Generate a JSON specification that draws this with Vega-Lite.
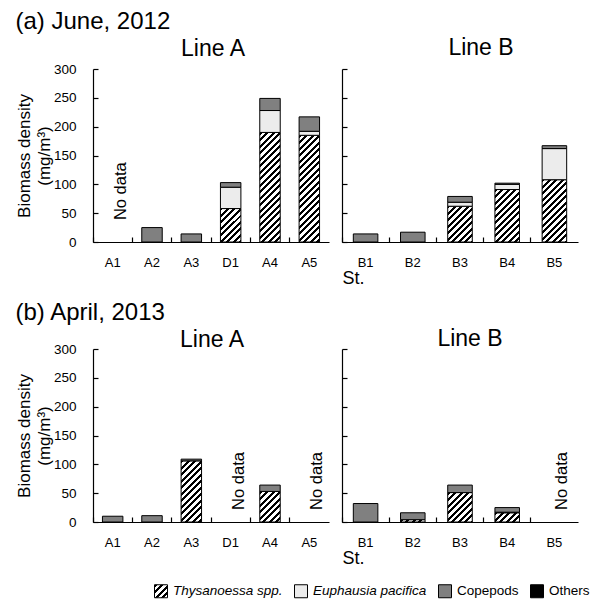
{
  "$schema": "https://vega.github.io/schema/vega-lite/v6.json",
  "padding": {"left": 15, "top": 10, "right": 5, "bottom": 5},
  "params": [
    {"name": "hatchStops", "value": [
      {"offset": 0, "color": "black"}, {"offset": 0.0188, "color": "black"}, {"offset": 0.0188, "color": "white"}, {"offset": 0.0417, "color": "white"},
      {"offset": 0.0417, "color": "black"}, {"offset": 0.0604, "color": "black"}, {"offset": 0.0604, "color": "white"}, {"offset": 0.0833, "color": "white"},
      {"offset": 0.0833, "color": "black"}, {"offset": 0.1021, "color": "black"}, {"offset": 0.1021, "color": "white"}, {"offset": 0.125, "color": "white"},
      {"offset": 0.125, "color": "black"}, {"offset": 0.1438, "color": "black"}, {"offset": 0.1438, "color": "white"}, {"offset": 0.1667, "color": "white"},
      {"offset": 0.1667, "color": "black"}, {"offset": 0.1854, "color": "black"}, {"offset": 0.1854, "color": "white"}, {"offset": 0.2083, "color": "white"},
      {"offset": 0.2083, "color": "black"}, {"offset": 0.2271, "color": "black"}, {"offset": 0.2271, "color": "white"}, {"offset": 0.25, "color": "white"},
      {"offset": 0.25, "color": "black"}, {"offset": 0.2688, "color": "black"}, {"offset": 0.2688, "color": "white"}, {"offset": 0.2917, "color": "white"},
      {"offset": 0.2917, "color": "black"}, {"offset": 0.3104, "color": "black"}, {"offset": 0.3104, "color": "white"}, {"offset": 0.3333, "color": "white"},
      {"offset": 0.3333, "color": "black"}, {"offset": 0.3521, "color": "black"}, {"offset": 0.3521, "color": "white"}, {"offset": 0.375, "color": "white"},
      {"offset": 0.375, "color": "black"}, {"offset": 0.3938, "color": "black"}, {"offset": 0.3938, "color": "white"}, {"offset": 0.4167, "color": "white"},
      {"offset": 0.4167, "color": "black"}, {"offset": 0.4354, "color": "black"}, {"offset": 0.4354, "color": "white"}, {"offset": 0.4583, "color": "white"},
      {"offset": 0.4583, "color": "black"}, {"offset": 0.4771, "color": "black"}, {"offset": 0.4771, "color": "white"}, {"offset": 0.5, "color": "white"},
      {"offset": 0.5, "color": "black"}, {"offset": 0.5188, "color": "black"}, {"offset": 0.5188, "color": "white"}, {"offset": 0.5417, "color": "white"},
      {"offset": 0.5417, "color": "black"}, {"offset": 0.5604, "color": "black"}, {"offset": 0.5604, "color": "white"}, {"offset": 0.5833, "color": "white"},
      {"offset": 0.5833, "color": "black"}, {"offset": 0.6021, "color": "black"}, {"offset": 0.6021, "color": "white"}, {"offset": 0.625, "color": "white"},
      {"offset": 0.625, "color": "black"}, {"offset": 0.6438, "color": "black"}, {"offset": 0.6438, "color": "white"}, {"offset": 0.6667, "color": "white"},
      {"offset": 0.6667, "color": "black"}, {"offset": 0.6854, "color": "black"}, {"offset": 0.6854, "color": "white"}, {"offset": 0.7083, "color": "white"},
      {"offset": 0.7083, "color": "black"}, {"offset": 0.7271, "color": "black"}, {"offset": 0.7271, "color": "white"}, {"offset": 0.75, "color": "white"},
      {"offset": 0.75, "color": "black"}, {"offset": 0.7688, "color": "black"}, {"offset": 0.7688, "color": "white"}, {"offset": 0.7917, "color": "white"},
      {"offset": 0.7917, "color": "black"}, {"offset": 0.8104, "color": "black"}, {"offset": 0.8104, "color": "white"}, {"offset": 0.8333, "color": "white"},
      {"offset": 0.8333, "color": "black"}, {"offset": 0.8521, "color": "black"}, {"offset": 0.8521, "color": "white"}, {"offset": 0.875, "color": "white"},
      {"offset": 0.875, "color": "black"}, {"offset": 0.8938, "color": "black"}, {"offset": 0.8938, "color": "white"}, {"offset": 0.9167, "color": "white"},
      {"offset": 0.9167, "color": "black"}, {"offset": 0.9354, "color": "black"}, {"offset": 0.9354, "color": "white"}, {"offset": 0.9583, "color": "white"},
      {"offset": 0.9583, "color": "black"}, {"offset": 0.9771, "color": "black"}, {"offset": 0.9771, "color": "white"}, {"offset": 1, "color": "white"}
    ]}
  ],
  "datasets": {
    "bio": [
      {"month": "a", "line": "A", "st": "A2", "species": "Copepods", "value": 25},
      {"month": "a", "line": "A", "st": "A3", "species": "Copepods", "value": 14},
      {"month": "a", "line": "A", "st": "D1", "species": "Thysanoessa spp.", "value": 58},
      {"month": "a", "line": "A", "st": "D1", "species": "Euphausia pacifica", "value": 37},
      {"month": "a", "line": "A", "st": "D1", "species": "Copepods", "value": 8},
      {"month": "a", "line": "A", "st": "A4", "species": "Thysanoessa spp.", "value": 190},
      {"month": "a", "line": "A", "st": "A4", "species": "Euphausia pacifica", "value": 38},
      {"month": "a", "line": "A", "st": "A4", "species": "Copepods", "value": 21},
      {"month": "a", "line": "A", "st": "A5", "species": "Thysanoessa spp.", "value": 185},
      {"month": "a", "line": "A", "st": "A5", "species": "Euphausia pacifica", "value": 7},
      {"month": "a", "line": "A", "st": "A5", "species": "Copepods", "value": 25},
      {"month": "a", "line": "B", "st": "B1", "species": "Copepods", "value": 14},
      {"month": "a", "line": "B", "st": "B2", "species": "Copepods", "value": 17},
      {"month": "a", "line": "B", "st": "B3", "species": "Thysanoessa spp.", "value": 62},
      {"month": "a", "line": "B", "st": "B3", "species": "Euphausia pacifica", "value": 7},
      {"month": "a", "line": "B", "st": "B3", "species": "Copepods", "value": 10},
      {"month": "a", "line": "B", "st": "B4", "species": "Thysanoessa spp.", "value": 91},
      {"month": "a", "line": "B", "st": "B4", "species": "Euphausia pacifica", "value": 9},
      {"month": "a", "line": "B", "st": "B4", "species": "Copepods", "value": 2},
      {"month": "a", "line": "B", "st": "B5", "species": "Thysanoessa spp.", "value": 108},
      {"month": "a", "line": "B", "st": "B5", "species": "Euphausia pacifica", "value": 54},
      {"month": "a", "line": "B", "st": "B5", "species": "Copepods", "value": 5},
      {"month": "b", "line": "A", "st": "A1", "species": "Copepods", "value": 10},
      {"month": "b", "line": "A", "st": "A2", "species": "Copepods", "value": 11},
      {"month": "b", "line": "A", "st": "A3", "species": "Thysanoessa spp.", "value": 106},
      {"month": "b", "line": "A", "st": "A3", "species": "Copepods", "value": 3},
      {"month": "b", "line": "A", "st": "A4", "species": "Thysanoessa spp.", "value": 53},
      {"month": "b", "line": "A", "st": "A4", "species": "Copepods", "value": 11},
      {"month": "b", "line": "B", "st": "B1", "species": "Copepods", "value": 32},
      {"month": "b", "line": "B", "st": "B2", "species": "Thysanoessa spp.", "value": 4},
      {"month": "b", "line": "B", "st": "B2", "species": "Copepods", "value": 12},
      {"month": "b", "line": "B", "st": "B3", "species": "Thysanoessa spp.", "value": 51},
      {"month": "b", "line": "B", "st": "B3", "species": "Copepods", "value": 13},
      {"month": "b", "line": "B", "st": "B4", "species": "Thysanoessa spp.", "value": 16},
      {"month": "b", "line": "B", "st": "B4", "species": "Euphausia pacifica", "value": 1},
      {"month": "b", "line": "B", "st": "B4", "species": "Copepods", "value": 8}
    ],
    "nodata": [
      {"month": "a", "line": "A", "st": "A1", "label": "No data"},
      {"month": "b", "line": "A", "st": "D1", "label": "No data"},
      {"month": "b", "line": "A", "st": "A5", "label": "No data"},
      {"month": "b", "line": "B", "st": "B5", "label": "No data"}
    ]
  },
  "vconcat": [
    {
      "title": {"text": "(a) June, 2012", "anchor": "start", "fontSize": 24, "fontWeight": "normal", "offset": 3, "dx": 0},
      "spacing": 12,
      "resolve": {"scale": {"x": "independent", "y": "independent", "color": "shared"}, "axis": {"x": "independent", "y": "independent"}},
      "hconcat": [
        {
          "width": 236, "height": 173,
          "title": {"text": "Line A", "fontSize": 23, "fontWeight": "normal", "offset": 1, "frame": "group", "dx": 2},
          "layer": [
            {
              "data": {"name": "bio"},
              "transform": [{"filter": "datum.month === 'a' && datum.line === 'A'"}],
              "mark": {"type": "bar", "width": {"band": 0.52}, "stroke": "black", "strokeWidth": 1},
              "encoding": {
                "x": {"field": "st", "type": "nominal", "scale": {"domain": ["A1", "A2", "A3", "D1", "A4", "A5"], "paddingInner": 0, "paddingOuter": 0},
                      "axis": {"title": null, "labelAngle": 0, "tickSize": -5, "bandPosition": 0, "labelPadding": 19}},
                "y": {"field": "value", "type": "quantitative", "stack": "zero", "scale": {"domain": [0, 300]},
                      "axis": {"values": [0, 50, 100, 150, 200, 250, 300], "labelOverlap": false, "labelFlush": false, "title": ["Biomass density", "(mg/m³)"], "titleFontSize": 17, "titleFontWeight": "normal", "titleLineHeight": 20, "titlePadding": 0, "tickSize": -5, "labelPadding": 22, "labelFontSize": 13.5}},
                "order": {"field": "species", "sort": "descending"},
                "color": {
                  "condition": {"test": "datum.species === 'Thysanoessa spp.'", "value": {"expr": "{gradient: 'linear', x1: 0, y1: 0, x2: 156*(datum.line === 'A' ? 20.45 : 24.54)/(pow(datum.line === 'A' ? 20.45 : 24.54, 2) + pow(abs(datum.value_end - datum.value_start)*0.5767, 2)), y2: 156*abs(datum.value_end - datum.value_start)*0.5767/(pow(datum.line === 'A' ? 20.45 : 24.54, 2) + pow(abs(datum.value_end - datum.value_start)*0.5767, 2)), stops: hatchStops}"}},
                  "field": "species", "type": "nominal",
                  "scale": {"domain": ["Thysanoessa spp.", "Euphausia pacifica", "Copepods", "Others"], "range": [{"expr": "{gradient: 'linear', x1: 0, y1: 0, x2: 1, y2: 1, stops: [{offset: 0, color: 'black'}, {offset: 0.1125, color: 'black'}, {offset: 0.1125, color: 'white'}, {offset: 0.25, color: 'white'}, {offset: 0.25, color: 'black'}, {offset: 0.3625, color: 'black'}, {offset: 0.3625, color: 'white'}, {offset: 0.5, color: 'white'}, {offset: 0.5, color: 'black'}, {offset: 0.6125, color: 'black'}, {offset: 0.6125, color: 'white'}, {offset: 0.75, color: 'white'}, {offset: 0.75, color: 'black'}, {offset: 0.8625, color: 'black'}, {offset: 0.8625, color: 'white'}, {offset: 1, color: 'white'}]}"}, "#ececec", "#808080", "#000000"]},
                  "legend": {"orient": "none", "legendX": 61, "legendY": 515, "direction": "horizontal", "title": null, "symbolType": "square", "symbolSize": 169, "symbolStrokeColor": "black", "symbolStrokeWidth": 1, "symbolOpacity": 1, "labelFontSize": 13.5, "labelOffset": 5, "columnPadding": 9,
                    "encode": {
                      "labels": {"update": {"fontStyle": {"signal": "datum.value === 'Copepods' || datum.value === 'Others' ? 'normal' : 'italic'"}}}
                    }}
                }
              }
            },
            {
              "data": {"name": "nodata"},
              "transform": [{"filter": "datum.month === 'a' && datum.line === 'A'"}],
              "mark": {"type": "text", "angle": 270, "align": "left", "baseline": "top", "fontSize": 16.5},
              "encoding": {"x": {"field": "st", "type": "nominal"}, "y": {"datum": 38, "axis": {"values": [0, 50, 100, 150, 200, 250, 300], "labelOverlap": false, "labelFlush": false, "title": ["Biomass density", "(mg/m³)"], "titleFontSize": 17, "titleFontWeight": "normal", "titleLineHeight": 20, "titlePadding": 0, "tickSize": -5, "labelPadding": 22, "labelFontSize": 13.5}}, "text": {"field": "label"}}
            }
          ]
        },
        {
          "width": 236, "height": 173,
          "title": {"text": "Line B", "fontSize": 23, "fontWeight": "normal", "offset": 8, "frame": "group", "dx": 21},
          "layer": [
            {
              "data": {"name": "bio"},
              "transform": [{"filter": "datum.month === 'a' && datum.line === 'B'"}],
              "mark": {"type": "bar", "width": {"band": 0.52}, "stroke": "black", "strokeWidth": 1},
              "encoding": {
                "x": {"field": "st", "type": "nominal", "scale": {"domain": ["B1", "B2", "B3", "B4", "B5"], "paddingInner": 0, "paddingOuter": 0},
                      "axis": {"title": "St.", "titleAnchor": "start", "titleAlign": "left", "titleFontSize": 18, "titleFontWeight": "normal", "titlePadding": 0, "labelAngle": 0, "tickSize": -5, "bandPosition": 0, "labelPadding": 19}},
                "y": {"field": "value", "type": "quantitative", "stack": "zero", "scale": {"domain": [0, 300]},
                      "axis": {"values": [0, 50, 100, 150, 200, 250, 300], "title": null, "labels": false, "tickSize": -5}},
                "order": {"field": "species", "sort": "descending"},
                "color": {
                  "condition": {"test": "datum.species === 'Thysanoessa spp.'", "value": {"expr": "{gradient: 'linear', x1: 0, y1: 0, x2: 156*(datum.line === 'A' ? 20.45 : 24.54)/(pow(datum.line === 'A' ? 20.45 : 24.54, 2) + pow(abs(datum.value_end - datum.value_start)*0.5767, 2)), y2: 156*abs(datum.value_end - datum.value_start)*0.5767/(pow(datum.line === 'A' ? 20.45 : 24.54, 2) + pow(abs(datum.value_end - datum.value_start)*0.5767, 2)), stops: hatchStops}"}},
                  "field": "species", "type": "nominal"
                }
              }
            }
          ]
        }
      ]
    },
    {
      "title": {"text": "(b) April, 2013", "anchor": "start", "fontSize": 24, "fontWeight": "normal", "offset": 3, "dx": 0},
      "spacing": 12,
      "resolve": {"scale": {"x": "independent", "y": "independent", "color": "shared"}, "axis": {"x": "independent", "y": "independent"}},
      "hconcat": [
        {
          "width": 236, "height": 173,
          "title": {"text": "Line A", "fontSize": 23, "fontWeight": "normal", "offset": -10, "frame": "group", "dx": 1},
          "layer": [
            {
              "data": {"name": "bio"},
              "transform": [{"filter": "datum.month === 'b' && datum.line === 'A'"}],
              "mark": {"type": "bar", "width": {"band": 0.52}, "stroke": "black", "strokeWidth": 1},
              "encoding": {
                "x": {"field": "st", "type": "nominal", "scale": {"domain": ["A1", "A2", "A3", "D1", "A4", "A5"], "paddingInner": 0, "paddingOuter": 0},
                      "axis": {"title": null, "labelAngle": 0, "tickSize": -5, "bandPosition": 0, "labelPadding": 19}},
                "y": {"field": "value", "type": "quantitative", "stack": "zero", "scale": {"domain": [0, 300]},
                      "axis": {"values": [0, 50, 100, 150, 200, 250, 300], "labelOverlap": false, "labelFlush": false, "title": ["Biomass density", "(mg/m³)"], "titleFontSize": 17, "titleFontWeight": "normal", "titleLineHeight": 20, "titlePadding": 0, "tickSize": -5, "labelPadding": 22, "labelFontSize": 13.5}},
                "order": {"field": "species", "sort": "descending"},
                "color": {
                  "condition": {"test": "datum.species === 'Thysanoessa spp.'", "value": {"expr": "{gradient: 'linear', x1: 0, y1: 0, x2: 156*(datum.line === 'A' ? 20.45 : 24.54)/(pow(datum.line === 'A' ? 20.45 : 24.54, 2) + pow(abs(datum.value_end - datum.value_start)*0.5767, 2)), y2: 156*abs(datum.value_end - datum.value_start)*0.5767/(pow(datum.line === 'A' ? 20.45 : 24.54, 2) + pow(abs(datum.value_end - datum.value_start)*0.5767, 2)), stops: hatchStops}"}},
                  "field": "species", "type": "nominal"
                }
              }
            },
            {
              "data": {"name": "nodata"},
              "transform": [{"filter": "datum.month === 'b' && datum.line === 'A'"}],
              "mark": {"type": "text", "angle": 270, "align": "left", "baseline": "top", "fontSize": 16.5},
              "encoding": {"x": {"field": "st", "type": "nominal"}, "y": {"datum": 21, "axis": {"values": [0, 50, 100, 150, 200, 250, 300], "labelOverlap": false, "labelFlush": false, "title": ["Biomass density", "(mg/m³)"], "titleFontSize": 17, "titleFontWeight": "normal", "titleLineHeight": 20, "titlePadding": 0, "tickSize": -5, "labelPadding": 22, "labelFontSize": 13.5}}, "text": {"field": "label"}}
            }
          ]
        },
        {
          "width": 236, "height": 173,
          "title": {"text": "Line B", "fontSize": 23, "fontWeight": "normal", "offset": -3, "frame": "group", "dx": 10},
          "layer": [
            {
              "data": {"name": "bio"},
              "transform": [{"filter": "datum.month === 'b' && datum.line === 'B'"}],
              "mark": {"type": "bar", "width": {"band": 0.52}, "stroke": "black", "strokeWidth": 1},
              "encoding": {
                "x": {"field": "st", "type": "nominal", "scale": {"domain": ["B1", "B2", "B3", "B4", "B5"], "paddingInner": 0, "paddingOuter": 0},
                      "axis": {"title": "St.", "titleAnchor": "start", "titleAlign": "left", "titleFontSize": 18, "titleFontWeight": "normal", "titlePadding": 0, "labelAngle": 0, "tickSize": -5, "bandPosition": 0, "labelPadding": 19}},
                "y": {"field": "value", "type": "quantitative", "stack": "zero", "scale": {"domain": [0, 300]},
                      "axis": {"values": [0, 50, 100, 150, 200, 250, 300], "title": null, "labels": false, "tickSize": -5}},
                "order": {"field": "species", "sort": "descending"},
                "color": {
                  "condition": {"test": "datum.species === 'Thysanoessa spp.'", "value": {"expr": "{gradient: 'linear', x1: 0, y1: 0, x2: 156*(datum.line === 'A' ? 20.45 : 24.54)/(pow(datum.line === 'A' ? 20.45 : 24.54, 2) + pow(abs(datum.value_end - datum.value_start)*0.5767, 2)), y2: 156*abs(datum.value_end - datum.value_start)*0.5767/(pow(datum.line === 'A' ? 20.45 : 24.54, 2) + pow(abs(datum.value_end - datum.value_start)*0.5767, 2)), stops: hatchStops}"}},
                  "field": "species", "type": "nominal"
                }
              }
            },
            {
              "data": {"name": "nodata"},
              "transform": [{"filter": "datum.month === 'b' && datum.line === 'B'"}],
              "mark": {"type": "text", "angle": 270, "align": "left", "baseline": "top", "fontSize": 16.5},
              "encoding": {"x": {"field": "st", "type": "nominal"}, "y": {"datum": 21, "axis": {"values": [0, 50, 100, 150, 200, 250, 300], "title": null, "labels": false, "tickSize": -5}}, "text": {"field": "label"}}
            }
          ]
        }
      ]
    }
  ],
  "spacing": 14,
  "resolve": {"scale": {"x": "independent", "y": "independent", "color": "shared"}, "axis": {"x": "independent", "y": "independent"}},
  "config": {
    "font": "Liberation Sans",
    "view": {"stroke": null},
    "axis": {"grid": false, "domainColor": "#000000", "tickColor": "#000000", "labelColor": "#000000", "titleColor": "#000000", "labelFontSize": 13, "domainWidth": 1.2, "tickWidth": 1.2},
    "title": {"color": "#000000"},
    "legend": {"labelColor": "#000000"},
    "text": {"color": "#000000"}
  }
}
